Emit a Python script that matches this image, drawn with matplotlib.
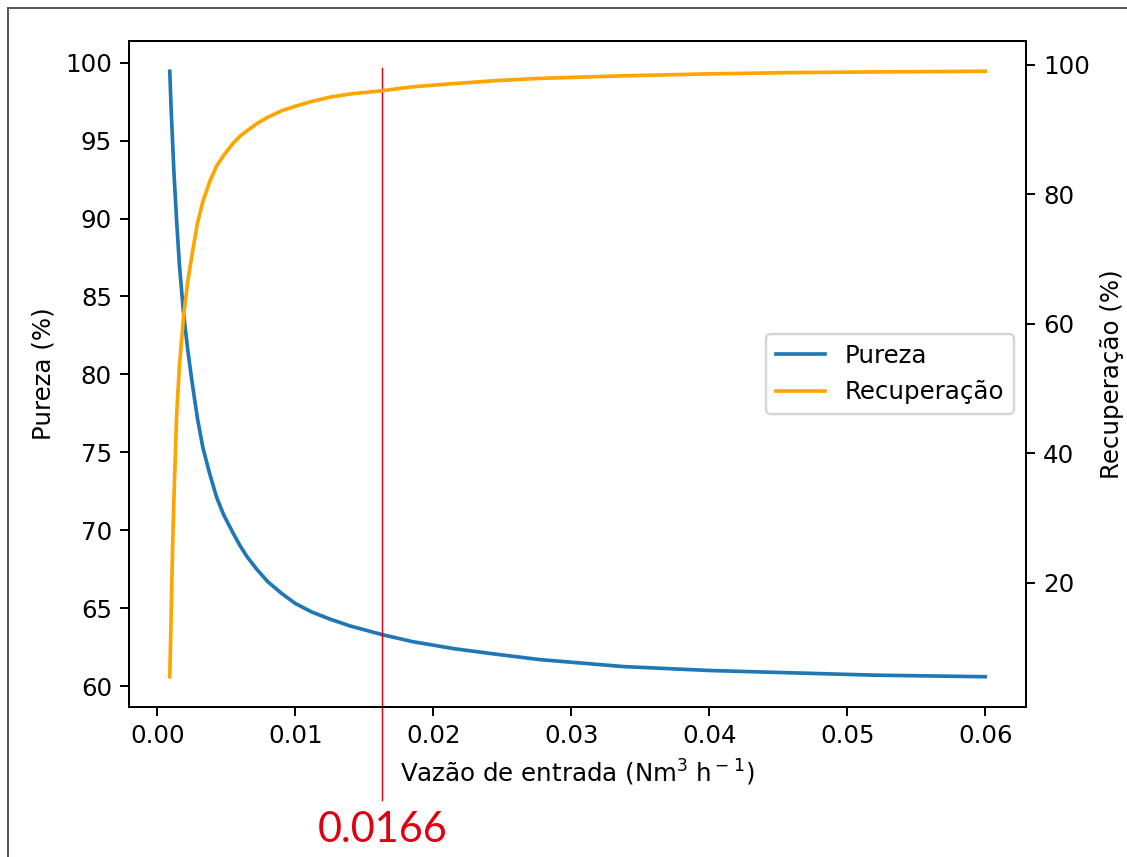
import matplotlib.pyplot as plt
from matplotlib.transforms import blended_transform_factory
from matplotlib.lines import Line2D

# vazão de entrada (Nm3/h)
vazao = [0.0009, 0.0010, 0.0011, 0.0012, 0.0014, 0.0016, 0.0019, 0.0022,
         0.0025, 0.0029, 0.0033, 0.0038, 0.0043, 0.0048, 0.0055, 0.0060,
         0.0065, 0.0072, 0.0080, 0.0090, 0.0100, 0.0112, 0.0125, 0.0140,
         0.0163, 0.0185, 0.0215, 0.0245, 0.0277, 0.0338, 0.0400, 0.0460,
         0.0520, 0.0600]

# pureza (%)
pureza = [99.45, 97.0, 95.0, 93.0, 89.8, 87.0, 83.9, 81.6,
          79.6, 77.2, 75.3, 73.6, 72.1, 71.0, 69.8, 69.0,
          68.3, 67.5, 66.7, 65.95, 65.3, 64.75, 64.3, 63.85,
          63.3, 62.85, 62.4, 62.05, 61.7, 61.25, 61.0, 60.85,
          60.7, 60.6]

# recuperação (%)
recuperacao = [5.5, 15.0, 25.0, 33.0, 46.0, 53.5, 61.2, 66.5,
               70.5, 75.5, 78.9, 82.0, 84.4, 86.0, 87.9, 89.0,
               89.8, 90.9, 91.9, 92.9, 93.6, 94.35, 95.0, 95.5,
               96.0, 96.6, 97.1, 97.55, 97.9, 98.3, 98.6, 98.8,
               98.9, 99.0]

# ponto marcado
x_marca = 0.0163
texto_marca = '0.0166'

W, H, DPI = 1127, 857, 176
fig = plt.figure(figsize=(W / DPI, H / DPI), dpi=DPI)
ax = fig.add_axes([129 / W, 1 - 707 / H, (1026 - 129) / W, (707 - 41) / H])

l1, = ax.plot(vazao, pureza, color='#1f77b4', label='Pureza')
ax.set_ylabel('Pureza (%)')
ax.set_xlabel('Vazão de entrada (Nm$^3$ h$^-$$^1$)')

ax2 = ax.twinx()
l2, = ax2.plot(vazao, recuperacao, color='orange', label='Recuperação')
ax2.set_ylabel('Recuperação (%)')

ax.legend(handles=[l1, l2], loc='center right')

# linha vermelha e valor (anotação que sai do gráfico)
trans = blended_transform_factory(ax.transData, fig.transFigure)
ax.plot([x_marca, x_marca], [1 - 68 / H, 1 - 800 / H], color='#e00010',
        lw=0.6, transform=trans, clip_on=False, zorder=5)
ax.text(x_marca, 1 - 830 / H, texto_marca, transform=trans, color='#e00010',
        fontsize=17, family='Lato', ha='center', va='center')

# moldura cinza da imagem
fig.add_artist(Line2D([8 / W, 8 / W], [0, 1 - 8 / H], color='#555555', lw=0.8,
                      transform=fig.transFigure))
fig.add_artist(Line2D([8 / W, 1], [1 - 8 / H, 1 - 8 / H], color='#555555', lw=0.8,
                      transform=fig.transFigure))

fig.savefig('out.png', dpi=DPI)
plt.close()
